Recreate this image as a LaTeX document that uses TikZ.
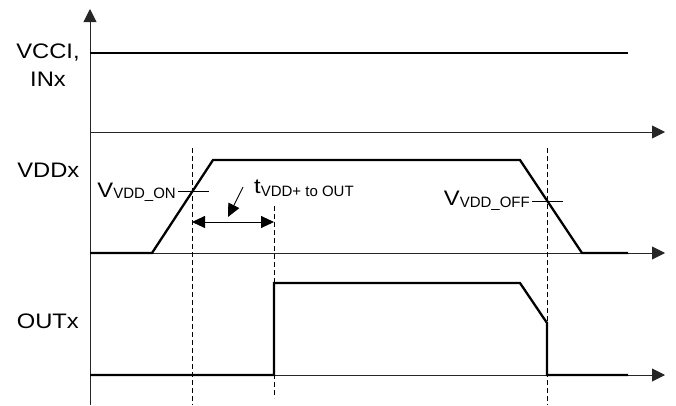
\documentclass[tikz,border=0pt]{standalone}
\usepackage{fontspec}
\setmainfont{Liberation Sans}
\newfontfamily\widefont[FakeStretch=1.13]{Liberation Sans}
\usetikzlibrary{arrows.meta}
\tikzset{
  axisline/.style={line width=0.9pt, black!85},
  axisarrow/.style={axisline, -{Triangle[length=13pt,width=13pt]}},
  wave/.style={line width=2.3pt, black, line join=miter},
  guide/.style={line width=0.9pt, black, dash pattern=on 5pt off 3pt},
  tickmark/.style={line width=0.9pt, black},
  dimarrow/.style={line width=0.9pt, black, {Triangle[length=13pt,width=12pt]}-{Triangle[length=13pt,width=12pt]}},
  pointer/.style={line width=0.9pt, black, -{Triangle[length=13pt,width=12pt]}},
  biglabel/.style={inner sep=0pt, font=\widefont\fontsize{21}{28.4}\selectfont},
}
\newcommand{\subtxt}[2]{\raisebox{-#1}{\fontsize{15}{15}\selectfont\rmfamily #2}}
\begin{document}
\begin{tikzpicture}[x=1pt,y=-1pt]
\useasboundingbox (0,0) rectangle (676,405);
% axes
\coordinate (ybot) at (90,405);
\coordinate (ytop) at (90,9);
\draw[axisarrow] (ybot) -- (ytop);
\coordinate (a1s) at (90,132); \coordinate (a1e) at (665,132);
\coordinate (a2s) at (90,253); \coordinate (a2e) at (665,253);
\coordinate (a3s) at (90,375); \coordinate (a3e) at (665,375);
\draw[axisarrow] (a1s) -- (a1e);
\draw[axisarrow] (a2s) -- (a2e);
\draw[axisarrow] (a3s) -- (a3e);
% guides
\coordinate (g1t) at (192,148); \coordinate (g1b) at (192,405);
\coordinate (g2t) at (274,206); \coordinate (g2b) at (274,398);
\coordinate (g3t) at (547,148); \coordinate (g3b) at (547,405);
\draw[guide] (g1t) -- (g1b);
\draw[guide] (g2t) -- (g2b);
\draw[guide] (g3t) -- (g3b);
% waveforms
\draw[wave] (90,53) -- (628,53);
\draw[wave] (90,253) -- (152,253) -- (213,160) -- (520,160) -- (582,253) -- (628,253);
\draw[wave] (90,375) -- (274,375) -- (274,283) -- (520,283) -- (547,323) -- (547,375) -- (628,375);
% threshold ticks
\coordinate (t1a) at (178,191); \coordinate (t1b) at (209,191);
\coordinate (t2a) at (532,201); \coordinate (t2b) at (563,201);
\draw[tickmark] (t1a) -- (t1b);
\draw[tickmark] (t2a) -- (t2b);
% dimension arrows
\coordinate (d1) at (192,222); \coordinate (d2) at (274,222);
\draw[dimarrow] (d1) -- (d2);
\coordinate (p1) at (243,187); \coordinate (p2) at (228,217);
\draw[pointer] (p1) -- (p2);
% labels
\node[biglabel, align=center, anchor=north] (lvcci) at (48,43.3) {VCCI,\\INx};
\node[biglabel, anchor=base] (lvdd) at (48.3,177.3) {VDDx};
\node[biglabel, anchor=base] (lout) at (47.8,328.5) {OUTx};
\node[biglabel, anchor=base east] (lon) at (176,197) {V\subtxt{1.5pt}{VDD\_ON}};
\node[biglabel, anchor=base east] (loff) at (530,205) {V\subtxt{2pt}{VDD\_OFF}};
\node[biglabel, anchor=base west] (ltd) at (254,193) {t\subtxt{3pt}{VDD+ to OUT}};
\end{tikzpicture}
\end{document}
